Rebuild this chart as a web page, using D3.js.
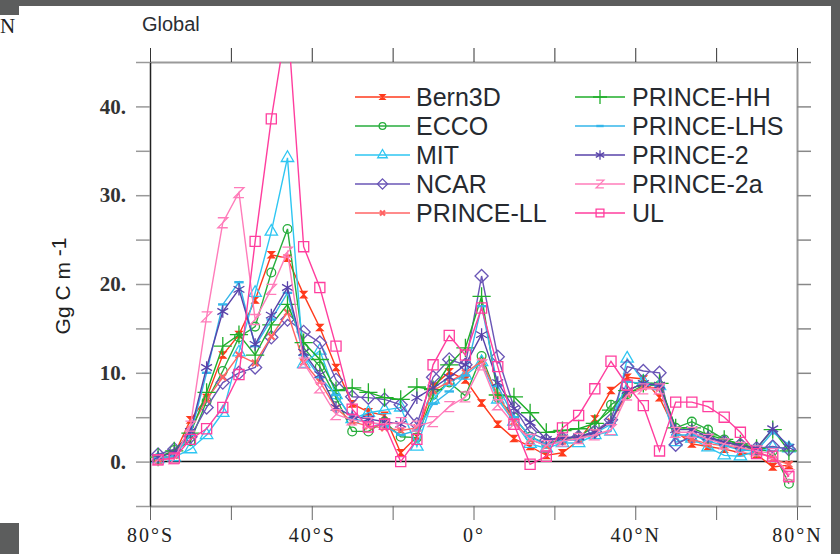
<!DOCTYPE html>
<html>
<head>
<meta charset="utf-8">
<script src="https://cdn.jsdelivr.net/npm/d3@7"></script>
<style>
body { margin: 0; background: #5c5d5d; }
svg { display: block; }
</style>
</head>
<body>
<div id="chart"></div>
<script>
// latitudes of the zonal bands (band centres, 4 degrees apart)
var lats = d3.range(-78, 79, 4);

// zonal carbon flux per model, Gg C m-1
var bern3d = [0.2, 0.8, 4.7, 7.2, 12.0, 14.3, 18.2, 23.3, 22.9, 18.8, 15.1, 10.6, 6.5, 5.6, 5.2, 1.0, 2.8, 8.5, 10.1, 9.2, 6.6, 4.2, 2.6, 1.7, 0.7, 1.0, 2.4, 4.8, 8.0, 9.5, 9.3, 7.2, 3.4, 2.0, 1.7, 1.4, 1.0, 0.8, -0.6, -0.4];
var ecco = [0.4, 1.3, 2.3, 6.8, 10.2, 14.0, 15.2, 21.3, 26.2, 12.8, 10.7, 7.2, 3.4, 3.4, 4.5, 2.8, 2.7, 7.5, 8.9, 7.4, 11.9, 7.2, 5.0, 2.8, 2.0, 2.5, 2.8, 4.0, 6.4, 7.6, 8.6, 8.6, 3.8, 4.5, 3.6, 2.5, 1.9, 1.3, 1.2, -2.5];
var mit = [0.3, 0.5, 1.4, 3.0, 5.5, 12.3, 19.0, 25.9, 34.2, 11.0, 12.5, 7.5, 4.8, 5.5, 5.8, 6.1, 1.7, 7.0, 9.0, 9.7, 11.2, 7.0, 4.5, 2.0, 1.5, 2.1, 2.1, 3.0, 3.4, 11.6, 9.0, 8.5, 2.2, 2.6, 1.6, 0.7, 0.6, 1.2, 1.6, 1.5];
var ncar = [0.8, 1.4, 2.8, 6.1, 8.9, 10.0, 10.6, 14.0, 16.0, 14.6, 13.4, 9.2, 7.3, 7.2, 7.0, 6.4, 4.2, 9.5, 11.5, 10.9, 20.9, 11.8, 6.1, 3.3, 2.4, 2.6, 2.8, 3.4, 4.7, 10.7, 10.2, 10.0, 1.9, 2.9, 2.6, 2.2, 1.9, 1.5, 1.7, 1.4];
var princeLL = [0.3, 0.7, 3.6, 7.0, 9.5, 12.0, 11.1, 14.1, 16.8, 11.2, 9.0, 6.0, 4.5, 4.0, 3.8, 3.5, 3.8, 8.0, 9.0, 10.0, 11.3, 7.5, 4.5, 2.5, 1.8, 2.3, 2.6, 3.3, 4.5, 7.6, 8.4, 8.3, 3.2, 2.5, 2.0, 1.8, 1.5, 1.2, 0.3, -0.3];
var princeHH = [0.5, 1.2, 3.2, 7.8, 13.0, 14.3, 12.0, 15.4, 17.7, 13.4, 11.5, 8.0, 8.3, 7.8, 7.2, 7.0, 8.4, 8.1, 10.9, 12.8, 18.6, 7.5, 7.3, 5.5, 3.3, 3.5, 3.7, 4.3, 5.8, 8.0, 8.8, 8.8, 3.8, 3.8, 3.0, 2.5, 2.0, 1.5, 3.6, 1.2];
var princeLHS = [0.4, 0.6, 3.0, 10.0, 17.7, 20.2, 13.0, 16.0, 19.0, 12.0, 9.5, 7.5, 4.8, 4.5, 4.0, 3.0, 3.5, 6.5, 7.9, 9.7, 17.5, 8.5, 5.0, 2.8, 1.9, 2.3, 2.5, 3.2, 4.2, 9.0, 8.8, 8.6, 3.0, 3.0, 2.3, 1.8, 1.3, 1.2, 3.3, 1.9];
var prince2 = [0.5, 1.0, 3.4, 10.6, 16.9, 19.4, 13.2, 16.5, 19.6, 12.3, 9.8, 6.1, 5.1, 4.8, 4.5, 4.2, 7.2, 8.3, 9.5, 10.9, 14.3, 8.9, 6.0, 4.4, 2.5, 2.7, 2.8, 3.3, 4.5, 8.0, 8.8, 8.6, 3.6, 3.6, 2.8, 2.2, 1.8, 1.5, 3.7, 1.6];
var prince2a = [0.2, 0.3, 4.0, 16.3, 26.9, 30.3, 16.0, 19.4, 23.6, 11.1, 8.3, 5.3, 4.7, 4.4, 4.2, 4.4, 4.0, 4.5, 6.2, 7.3, 10.9, 6.4, 4.2, 2.5, 1.8, 2.3, 2.6, 3.0, 3.6, 7.5, 8.2, 8.2, 3.3, 3.3, 2.5, 2.0, 1.6, 1.2, 0.9, -1.5];
var ul = [0.2, 0.4, 2.5, 3.7, 6.1, 9.8, 24.8, 38.6, 50.0, 24.2, 19.6, 13.0, 5.9, 3.9, 4.2, 0.0, 2.5, 10.9, 14.2, 12.0, 17.3, 10.7, 4.2, -0.3, 0.6, 3.8, 5.2, 8.2, 11.3, 8.6, 6.3, 1.2, 6.7, 6.7, 6.2, 5.0, 3.3, 0.9, 0.6, -1.7];

var names = ["Bern3D", "ECCO", "MIT", "NCAR", "PRINCE-LL", "PRINCE-HH", "PRINCE-LHS", "PRINCE-2", "PRINCE-2a", "UL"];
var seriesValues = [bern3d, ecco, mit, ncar, princeLL, princeHH, princeLHS, prince2, prince2a, ul];

var yTicks = d3.range(-5, 46, 5);
var xTicks = d3.range(-80, 81, 20);
var xLabels = {"-80": "80°S", "-40": "40°S", "0": "0°", "40": "40°N", "80": "80°N"};

// custom marker shapes not in d3
var hourglass = { draw: function (ctx, size) {
    var r = Math.sqrt(size) / 2;
    ctx.moveTo(-r, -r); ctx.lineTo(r, -r); ctx.lineTo(-r, r); ctx.lineTo(r, r); ctx.closePath();
} };
var dash = { draw: function (ctx, size) {
    var r = Math.sqrt(size) / 2;
    ctx.moveTo(-r, 0); ctx.lineTo(r, 0);
} };
var zee = { draw: function (ctx, size) {
    var r = Math.sqrt(size) / 2;
    ctx.moveTo(-r, -r); ctx.lineTo(r, -r); ctx.lineTo(-r, r); ctx.lineTo(r, r);
} };

var styles = [
    { color: "#ff3a1c", type: hourglass, size: 40, fill: true },
    { color: "#27ad3c", type: d3.symbolCircle, size: 60, fill: false },
    { color: "#2ec6f2", type: d3.symbolTriangle2, size: 110, fill: false },
    { color: "#6a56b6", type: d3.symbolDiamond2, size: 110, fill: false },
    { color: "#ff6464", type: d3.symbolTimes, size: 30, fill: false, sw: 2.2 },
    { color: "#1fae2a", type: d3.symbolPlus, size: 110, fill: false },
    { color: "#34b6ea", type: dash, size: 90, fill: false, sw: 2.4 },
    { color: "#5843aa", type: d3.symbolAsterisk, size: 110, fill: false },
    { color: "#ff7cba", type: zee, size: 100, fill: false },
    { color: "#ff3e9e", type: d3.symbolSquare2, size: 130, fill: false }
];

var w = 840;
var h = 554;

var x = d3.scaleLinear().domain([-80, 80]).range([150, 797]);
var y = d3.scaleLinear().domain([-5, 45]).range([506, 62]);

var svg = d3.select("#chart")
    .append("svg")
    .attr("width", w)
    .attr("height", h);

// dark page with the white panel on top
svg.append("rect").attr("width", w).attr("height", h).attr("fill", "#5c5d5d");
svg.append("rect").attr("x", 19).attr("y", 6).attr("width", 812).attr("height", h - 6).attr("fill", "#fff");
svg.append("rect").attr("x", 0).attr("y", 15).attr("width", 19).attr("height", 508).attr("fill", "#fff");
svg.append("text")
    .attr("x", 0).attr("y", 33)
    .style("font-family", "Liberation Serif").style("font-size", "21px").style("fill", "#222")
    .text("N");

svg.append("text")
    .attr("x", 142).attr("y", 31)
    .style("font-family", "Liberation Sans").style("font-size", "20px").style("fill", "#2a2e33")
    .text("Global");

svg.append("defs")
    .append("clipPath")
    .attr("id", "clip")
    .append("rect")
    .attr("x", 150).attr("y", 62)
    .attr("width", 647).attr("height", 444);

// axes
var gTop = svg.append("g").attr("transform", "translate(0,62)")
    .call(d3.axisTop(x).tickValues(xTicks).tickSize(14).tickSizeOuter(0).tickFormat(""));
gTop.select(".domain").attr("stroke", "#9a9a9a").attr("stroke-width", 2);
gTop.selectAll(".tick line").attr("stroke", "#333");

var gBot = svg.append("g").attr("transform", "translate(0,506)")
    .call(d3.axisBottom(x).tickValues(xTicks).tickSize(14).tickSizeOuter(0).tickPadding(8)
        .tickFormat(function (d) { return xLabels[d] || ""; }));
gBot.select(".domain").attr("stroke", "#9a9a9a").attr("stroke-width", 2);
gBot.selectAll(".tick line").attr("stroke", "#666");
gBot.selectAll("text")
    .style("font-family", "Liberation Serif").style("font-size", "20px").style("letter-spacing", "2px")
    .attr("fill", "#222");

var gLeft = svg.append("g").attr("transform", "translate(150,0)")
    .call(d3.axisLeft(y).tickValues(yTicks).tickSize(14).tickSizeOuter(0).tickPadding(10)
        .tickFormat(function (d) { return (d >= 0 && d % 10 === 0) ? d + "." : ""; }));
gLeft.select(".domain").attr("stroke", "#222").attr("stroke-width", 1.5);
gLeft.selectAll(".tick line").attr("stroke", "#999").attr("stroke-width", 1.5);
gLeft.selectAll("text")
    .style("font-family", "Liberation Serif").style("font-size", "21px").style("font-weight", "bold")
    .attr("fill", "#333");

var gRight = svg.append("g").attr("transform", "translate(797,0)")
    .call(d3.axisRight(y).tickValues(yTicks).tickSize(14).tickSizeOuter(0).tickFormat(""));
gRight.select(".domain").attr("stroke", "#9a9a9a").attr("stroke-width", 2);
gRight.selectAll(".tick line").attr("stroke", "#888").attr("stroke-width", 1.5);

// zero line
svg.append("line")
    .attr("x1", x(-80)).attr("x2", x(80))
    .attr("y1", y(0)).attr("y2", y(0))
    .attr("stroke", "#111").attr("stroke-width", 1.5);

// y title
svg.append("text")
    .attr("transform", "translate(70," + (y(20) + 2) + ") rotate(-90)")
    .attr("text-anchor", "middle")
    .style("font-family", "Liberation Sans").style("font-size", "21px").style("fill", "#222")
    .text("Gg C m ")
    .append("tspan").attr("dy", -4).text("-1");

var line = d3.line()
    .x(function (d) { return x(d[0]); })
    .y(function (d) { return y(d[1]); });

var g = svg.append("g").attr("clip-path", "url(#clip)");

seriesValues.forEach(function (vals, k) {
    var st = styles[k];
    var pts = lats.map(function (lat, i) { return [lat, vals[i]]; });
    var sg = g.append("g");
    sg.append("path")
        .datum(pts)
        .attr("d", line)
        .attr("fill", "none")
        .attr("stroke", st.color)
        .attr("stroke-width", 1.4);
    sg.selectAll("path.m")
        .data(pts)
        .enter()
        .append("path")
        .attr("class", "m")
        .attr("transform", function (d) { return "translate(" + x(d[0]) + "," + y(d[1]) + ")"; })
        .attr("d", d3.symbol().type(st.type).size(st.size))
        .attr("fill", st.fill ? st.color : "none")
        .attr("stroke", st.color)
        .attr("stroke-width", st.sw || 1.3);
});

// legend, two columns
var legend = svg.append("g");
names.forEach(function (name, k) {
    var col = Math.floor(k / 5);
    var row = k % 5;
    var x0 = col === 0 ? 355 : 575;
    var x1 = col === 0 ? 410 : 625;
    var ly = 97 + row * 29;
    var st = styles[k];
    legend.append("line")
        .attr("x1", x0).attr("x2", x1).attr("y1", ly).attr("y2", ly)
        .attr("stroke", st.color).attr("stroke-width", 1.6);
    legend.append("path")
        .attr("transform", "translate(" + ((x0 + x1) / 2) + "," + ly + ")")
        .attr("d", d3.symbol().type(st.type).size(st.size * 0.6))
        .attr("fill", st.fill ? st.color : "none")
        .attr("stroke", st.color)
        .attr("stroke-width", st.sw || 1.3);
    legend.append("text")
        .attr("x", col === 0 ? 416 : 632)
        .attr("y", ly + 9)
        .style("font-family", "Liberation Sans").style("font-size", "25px").style("fill", "#262a30")
        .text(name);
});
</script>
</body>
</html>
